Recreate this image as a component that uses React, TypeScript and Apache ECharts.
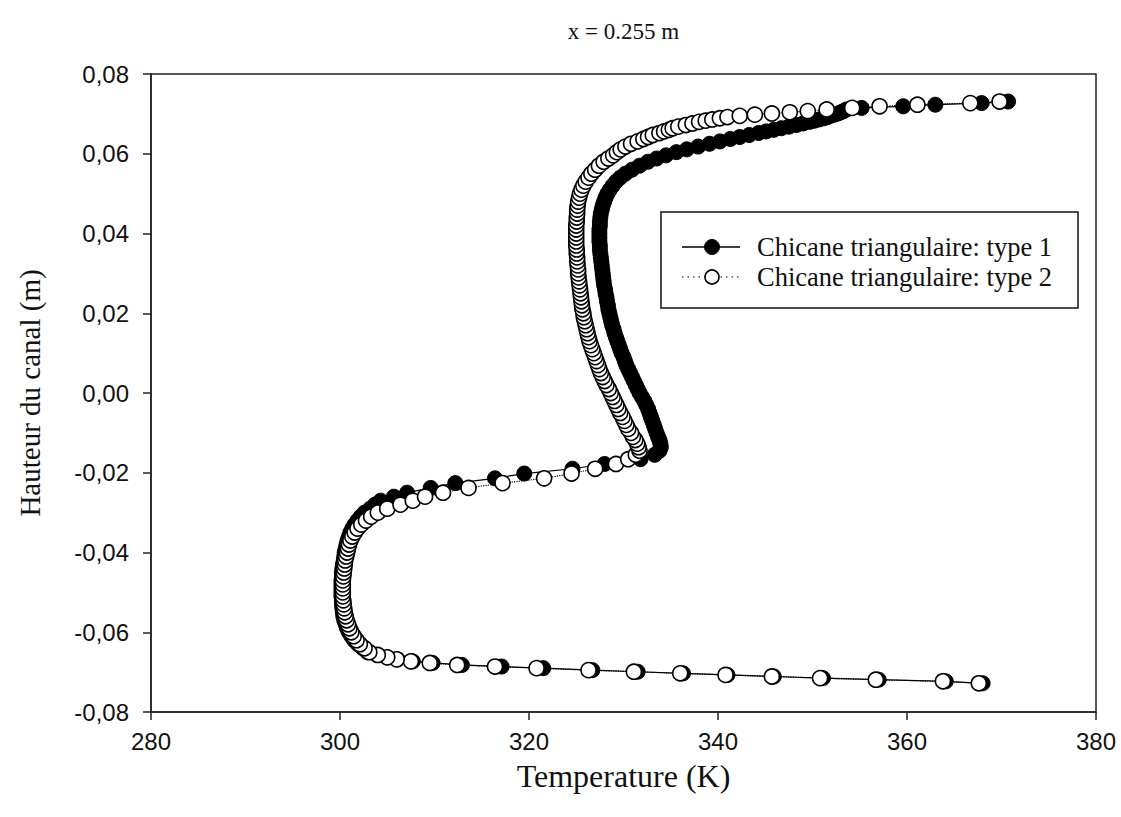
import { useEffect, useRef } from "react";
import * as echarts from "echarts";

// ---- Data (hauteur du canal in m, temperatures in K) ----
const hauteurBas = [-0.0728, -0.0723, -0.0719, -0.0715, -0.0711, -0.0707, -0.0703, -0.0699, -0.0695, -0.069, -0.0686, -0.0682, -0.0677, -0.0673, -0.0668, -0.0663, -0.0657];
const temp1Bas = [368.0, 364.1, 357.0, 351.1, 345.9, 341.0, 336.3, 331.5, 326.7, 321.5, 317.1, 312.9, 309.8, 307.7, 306.1, 305.0, 303.9];
const temp2Bas = [367.6, 363.8, 356.7, 350.8, 345.7, 340.8, 336.0, 331.1, 326.3, 320.8, 316.4, 312.4, 309.5, 307.5, 306.0, 305.0, 304.0];

const hauteurCoude = [-0.065, -0.064, -0.063, -0.062, -0.061, -0.06, -0.059, -0.058, -0.057, -0.056, -0.055, -0.054, -0.053, -0.052, -0.051, -0.05, -0.049, -0.048, -0.047, -0.046, -0.045, -0.044, -0.043, -0.042, -0.041, -0.04, -0.039, -0.038, -0.037, -0.036, -0.035, -0.034, -0.033, -0.032, -0.031, -0.03];
const temp1Coude = [302.9, 302.4, 301.9, 301.5, 301.2, 300.95, 300.75, 300.6, 300.45, 300.35, 300.3, 300.25, 300.2, 300.2, 300.15, 300.15, 300.15, 300.15, 300.15, 300.2, 300.2, 300.25, 300.3, 300.4, 300.45, 300.5, 300.6, 300.7, 300.8, 300.95, 301.1, 301.3, 301.55, 301.85, 302.2, 302.6];
const temp2Coude = [303.1, 302.6, 302.1, 301.75, 301.45, 301.2, 301.0, 300.85, 300.7, 300.6, 300.5, 300.45, 300.4, 300.35, 300.3, 300.3, 300.3, 300.3, 300.3, 300.35, 300.4, 300.45, 300.5, 300.55, 300.65, 300.75, 300.85, 300.95, 301.1, 301.3, 301.55, 301.85, 302.25, 302.75, 303.3, 304.0];

const hauteurTransition = [-0.029, -0.028, -0.027, -0.026, -0.025, -0.0238, -0.0226, -0.0214, -0.0202, -0.019, -0.0178, -0.0166, -0.0155, -0.0145, -0.0136, -0.0127, -0.0118];
const temp1Transition = [303.2, 303.7, 304.3, 305.7, 307.1, 309.6, 312.2, 316.4, 319.5, 324.6, 328.0, 331.8, 333.3, 333.8, 333.95, 333.9, 333.8];
const temp2Transition = [305.0, 306.4, 307.7, 309.0, 310.9, 313.6, 317.2, 321.6, 324.5, 327.0, 329.2, 330.5, 331.3, 331.7, 331.6, 331.45, 331.25];

const hauteurMilieu = [
  -0.011, -0.01, -0.009, -0.008, -0.007, -0.006, -0.005, -0.004, -0.003, -0.002, -0.001, 0.0,
  0.001, 0.002, 0.003, 0.004, 0.005, 0.006, 0.007, 0.008, 0.009, 0.01,
  0.011, 0.012, 0.013, 0.014, 0.015, 0.016, 0.017, 0.018, 0.019, 0.02,
  0.021, 0.022, 0.023, 0.024, 0.025, 0.026, 0.027, 0.028, 0.029, 0.03,
  0.031, 0.032, 0.033, 0.034, 0.035, 0.036, 0.037, 0.038, 0.039, 0.04,
  0.041, 0.042, 0.043, 0.044, 0.045, 0.046, 0.047, 0.048, 0.049, 0.05,
];
const temp1Milieu = [
  333.65, 333.5, 333.35, 333.2, 333.05, 332.9, 332.75, 332.6, 332.4, 332.2, 331.95, 331.7,
  331.5, 331.3, 331.1, 330.9, 330.7, 330.5, 330.3, 330.15, 330.0, 329.8,
  329.65, 329.5, 329.35, 329.2, 329.05, 328.95, 328.8, 328.7, 328.6, 328.5,
  328.4, 328.35, 328.25, 328.2, 328.1, 328.05, 327.95, 327.9, 327.85, 327.8,
  327.75, 327.7, 327.65, 327.6, 327.55, 327.5, 327.5, 327.45, 327.45, 327.45,
  327.45, 327.5, 327.5, 327.55, 327.6, 327.7, 327.8, 327.95, 328.1, 328.3,
];
const temp2Milieu = [
  331.0, 330.8, 330.5, 330.3, 330.1, 329.9, 329.65, 329.45, 329.25, 329.05, 328.85, 328.65,
  328.45, 328.2, 328.0, 327.8, 327.6, 327.45, 327.3, 327.15, 327.0, 326.85,
  326.7, 326.55, 326.4, 326.3, 326.2, 326.1, 326.0, 325.9, 325.8, 325.75,
  325.65, 325.6, 325.55, 325.5, 325.45, 325.4, 325.35, 325.3, 325.25, 325.2,
  325.2, 325.15, 325.1, 325.1, 325.05, 325.05, 325.0, 325.0, 325.0, 325.0,
  325.0, 325.0, 325.05, 325.05, 325.1, 325.1, 325.15, 325.2, 325.3, 325.4,
];

const hauteurHaut = [
  0.051, 0.052, 0.053, 0.054, 0.055, 0.056, 0.057, 0.058,
  0.0588, 0.0596, 0.0604, 0.0611, 0.0618, 0.0625, 0.0631, 0.0637, 0.0642, 0.0647, 0.0652,
  0.0656, 0.066, 0.0664, 0.0668, 0.0672, 0.0676, 0.068, 0.0683, 0.0686, 0.0689, 0.0692,
  0.0695, 0.0698, 0.0701, 0.0704, 0.0707, 0.0711, 0.0715, 0.0719, 0.0723, 0.0727, 0.0731,
];
const temp1Haut = [
  328.55, 328.85, 329.2, 329.65, 330.2, 330.9, 331.7, 332.6,
  333.5, 334.5, 335.6, 336.7, 337.9, 339.1, 340.2, 341.3, 342.3, 343.3, 344.3,
  345.1, 345.9, 346.7, 347.5, 348.3, 349.0, 349.7, 350.2, 350.7, 351.2, 351.6,
  351.9, 352.3, 352.7, 353.0, 353.3, 353.6, 355.2, 359.6, 363.0, 367.9, 370.7,
];
const temp2Haut = [
  325.55, 325.75, 326.0, 326.3, 326.6, 327.0, 327.4, 327.9,
  328.4, 328.9, 329.3, 329.7, 330.2, 330.8, 331.5, 332.1, 332.6, 333.1, 333.8,
  334.3, 334.8, 335.2, 335.8, 336.6, 337.3, 338.0, 338.7, 339.4, 340.2, 341.0,
  342.3, 343.9, 345.7, 347.6, 349.5, 351.5, 354.2, 357.1, 361.1, 366.7, 369.8,
];

const hauteur = [...hauteurBas, ...hauteurCoude, ...hauteurTransition, ...hauteurMilieu, ...hauteurHaut];
const tempType1 = [...temp1Bas, ...temp1Coude, ...temp1Transition, ...temp1Milieu, ...temp1Haut];
const tempType2 = [...temp2Bas, ...temp2Coude, ...temp2Transition, ...temp2Milieu, ...temp2Haut];

const seriesNames = ["Chicane triangulaire: type 1", "Chicane triangulaire: type 2"];
const chartTitle = "x = 0.255 m";
const xAxisTitle = "Temperature (K)";
const yAxisTitle = "Hauteur du canal (m)";
const xRange = { min: 280, max: 380, interval: 20 };
const yRange = { min: -0.08, max: 0.08, interval: 0.02 };

const SERIF = '"Liberation Serif", "Times New Roman", serif';
const SANS = '"Liberation Sans", Arial, sans-serif';

export default function App() {
  const ref = useRef<HTMLDivElement>(null);

  useEffect(() => {
    if (!ref.current) return;
    const chart = echarts.init(ref.current, undefined, { renderer: "svg" });

    const GL = 151, GT = 74, GR = 1096, GB = 712;
    const cx = (GL + GR) / 2;

    const data1 = hauteur.map((h, i) => [tempType1[i], h]);
    const data2 = hauteur.map((h, i) => [tempType2[i], h]);

    chart.setOption({
      animation: false,
      backgroundColor: "#fff",
      grid: {
        left: GL,
        top: GT,
        width: GR - GL,
        height: GB - GT,
        show: true,
        borderColor: "#222",
        borderWidth: 1.5,
        backgroundColor: "transparent",
      },
      xAxis: {
        type: "value",
        min: xRange.min,
        max: xRange.max,
        interval: xRange.interval,
        axisLine: { show: true, onZero: false, lineStyle: { color: "#222", width: 1.5 } },
        axisTick: { show: true, inside: false, length: 8, lineStyle: { color: "#222", width: 1.5 } },
        axisLabel: { color: "#111", fontFamily: SANS, fontSize: 24, margin: 17 },
        splitLine: { show: false },
      },
      yAxis: {
        type: "value",
        min: yRange.min,
        max: yRange.max,
        interval: yRange.interval,
        axisLine: { show: true, onZero: false, lineStyle: { color: "#222", width: 1.5 } },
        axisTick: { show: true, inside: false, length: 8, lineStyle: { color: "#222", width: 1.5 } },
        axisLabel: {
          color: "#111",
          fontFamily: SANS,
          fontSize: 24,
          margin: 22,
          formatter: (v: number) => (Math.abs(v) < 1e-9 ? "0,00" : v.toFixed(2).replace(".", ",")),
        },
        splitLine: { show: false },
      },
      series: [
        {
          type: "line",
          name: seriesNames[0],
          data: data1,
          symbol: "circle",
          symbolSize: 15,
          showAllSymbol: true,
          itemStyle: { color: "#000", borderColor: "#000", borderWidth: 1 },
          lineStyle: { color: "#000", width: 1.2, type: "solid" },
          emphasis: { disabled: true },
          z: 2,
        },
        {
          type: "line",
          name: seriesNames[1],
          data: data2,
          symbol: "circle",
          symbolSize: 15,
          showAllSymbol: true,
          itemStyle: { color: "#fff", borderColor: "#000", borderWidth: 1.6 },
          lineStyle: { color: "#000", width: 1.2, type: "dotted" },
          emphasis: { disabled: true },
          z: 3,
        },
      ],
      graphic: [
        {
          type: "text",
          x: cx,
          y: 31,
          style: { text: chartTitle, fill: "#111", fontFamily: SERIF, fontSize: 23, align: "center", verticalAlign: "middle" },
        },
        {
          type: "text",
          x: cx,
          y: 776,
          style: { text: xAxisTitle, fill: "#111", fontFamily: SERIF, fontSize: 32, align: "center", verticalAlign: "middle" },
        },
        {
          type: "text",
          x: 30,
          y: (GT + GB) / 2,
          rotation: Math.PI / 2,
          style: { text: yAxisTitle, fill: "#111", fontFamily: SERIF, fontSize: 29, align: "center", verticalAlign: "middle" },
        },
        {
          type: "group",
          z: 100,
          children: [
            {
              type: "rect",
              shape: { x: 661, y: 212, width: 417, height: 96 },
              style: { fill: "#fff", stroke: "#111", lineWidth: 1.5 },
            },
            {
              type: "line",
              shape: { x1: 682, y1: 247, x2: 740, y2: 247 },
              style: { stroke: "#000", lineWidth: 1.5 },
            },
            {
              type: "circle",
              shape: { cx: 712, cy: 247, r: 7.5 },
              style: { fill: "#000", stroke: "#000", lineWidth: 1 },
            },
            {
              type: "text",
              x: 757,
              y: 247,
              style: { text: seriesNames[0], fill: "#111", fontFamily: SERIF, fontSize: 26.5, align: "left", verticalAlign: "middle" },
            },
            {
              type: "line",
              shape: { x1: 682, y1: 277, x2: 740, y2: 277 },
              style: { stroke: "#000", lineWidth: 1.2, lineDash: [1.5, 4] },
            },
            {
              type: "circle",
              shape: { cx: 712, cy: 277, r: 7 },
              style: { fill: "#fff", stroke: "#000", lineWidth: 1.6 },
            },
            {
              type: "text",
              x: 757,
              y: 277,
              style: { text: seriesNames[1], fill: "#111", fontFamily: SERIF, fontSize: 26.5, align: "left", verticalAlign: "middle" },
            },
          ],
        },
      ],
    });

    return () => chart.dispose();
  }, []);

  return (
    <div
      ref={ref}
      style={{ position: "fixed", left: 0, top: 0, width: 1121, height: 817, background: "#fff" }}
    />
  );
}
